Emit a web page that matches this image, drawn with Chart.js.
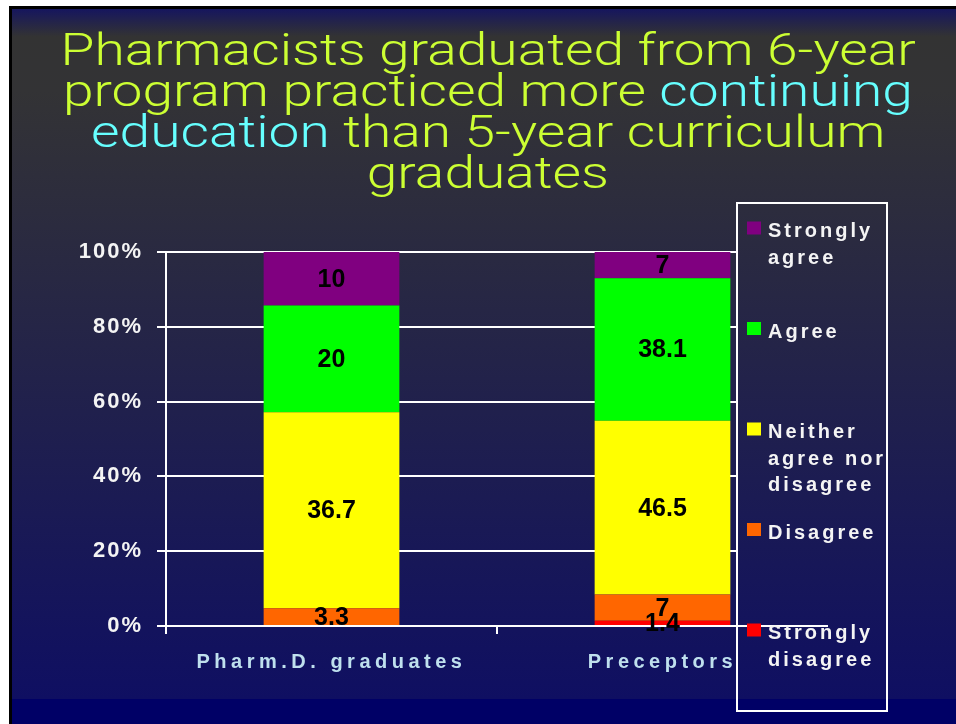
<!DOCTYPE html>
<html>
<head>
<meta charset="utf-8">
<script src="https://cdn.jsdelivr.net/npm/chart.js@4.4.0/dist/chart.umd.min.js"></script>
<style>
  html, body { margin: 0; padding: 0; background: #fff; }
  #wrap { position: relative; width: 956px; height: 724px; overflow: hidden; }
  #chart { position: absolute; left: 0; top: 0; }
  #title {
    position: absolute; left: 0; top: 29px; width: 976px; z-index: 2;
    text-align: center; color: #ccff33;
    font-family: Roboto, 'Liberation Sans', sans-serif; font-weight: 300;
    font-size: 45px; line-height: 41px;
  }
  #title .line { display: inline-block; white-space: nowrap; transform-origin: center; }
  #title .hl { color: #66ffff; }
</style>
</head>
<body>
<div id="wrap">
  <canvas id="chart" width="956" height="724"></canvas>
  <div id="title">
    <div><span class="line">Pharmacists graduated from 6-year</span></div>
    <div><span class="line">program practiced more <span class="hl">continuing</span></span></div>
    <div><span class="line"><span class="hl">education</span> than 5-year curriculum</span></div>
    <div><span class="line">graduates</span></div>
  </div>
</div>
<script>
// chart data (raw survey values, shown as labels; bars drawn as 100% stacks)
const categories = ['Pharm.D. graduates', 'Preceptors'];
const stronglyDisagree = [0, 1.4];
const disagree = [3.3, 7];
const neither = [36.7, 46.5];
const agree = [20, 38.1];
const stronglyAgree = [10, 7];
const yTicks = [0, 20, 40, 60, 80, 100];

const seriesNames = ['Strongly disagree', 'Disagree', 'Neither agree nor disagree', 'Agree', 'Strongly agree'];
const seriesColors = ['#ff0000', '#ff6600', '#ffff00', '#00ff00', '#800080'];
const legendLines = [['Strongly', 'disagree'], ['Disagree'], ['Neither', 'agree nor', 'disagree'], ['Agree'], ['Strongly', 'agree']];

// fit title lines to the slide width
const titleLines = document.querySelectorAll('#title .line');
const titleScale = 855 / titleLines[0].offsetWidth;
titleLines.forEach(l => { l.style.transform = 'scaleX(' + titleScale + ')'; });

const rawSeries = [stronglyDisagree, disagree, neither, agree, stronglyAgree];
const totals = categories.map((c, j) => rawSeries.reduce((s, arr) => s + arr[j], 0));

const datasets = rawSeries.map((vals, i) => ({
  label: seriesNames[i],
  data: vals.map((v, j) => v / totals[j] * 100),
  rawValues: vals,
  backgroundColor: seriesColors[i],
  borderWidth: 0,
  barPercentage: 0.41,
  categoryPercentage: 1.0
}));

function slideGradient(ctx) {
  const g = ctx.createLinearGradient(0, 9, 0, 699);
  g.addColorStop(0, '#16165e');
  g.addColorStop(0.04, '#333333');
  g.addColorStop(0.12, '#333335');
  g.addColorStop(1, '#0f0f62');
  return g;
}

// draw a scale's labels with its own letter spacing
function spacedLabels(spacing) {
  return s => {
    if (s._spaced) return;
    const orig = s.drawLabels.bind(s);
    s.drawLabels = area => {
      s.ctx.save();
      s.ctx.letterSpacing = spacing;
      orig(area);
      s.ctx.restore();
    };
    s._spaced = true;
  };
}

// slide background
const backgroundPlugin = {
  id: 'slideBackground',
  beforeDraw(chart) {
    const ctx = chart.ctx;
    ctx.save();
    ctx.fillStyle = '#ffffff';
    ctx.fillRect(0, 0, chart.width, chart.height);
    ctx.fillStyle = '#000000';
    ctx.fillRect(9, 6, 947, 3);
    ctx.fillRect(9, 6, 3, 718);
    ctx.fillStyle = slideGradient(ctx);
    ctx.fillRect(12, 9, 944, 690);
    ctx.fillStyle = '#000066';
    ctx.fillRect(12, 699, 944, 25);
    ctx.restore();
  }
};

// value labels + legend box
const overlayPlugin = {
  id: 'overlay',
  afterDatasetsDraw(chart) {
    const ctx = chart.ctx;
    ctx.save();
    ctx.letterSpacing = '0px';
    ctx.font = 'bold 25px Arial, "Liberation Sans", sans-serif';
    ctx.fillStyle = '#000000';
    ctx.textAlign = 'center';
    ctx.textBaseline = 'middle';
    chart.data.datasets.forEach((ds, i) => {
      chart.getDatasetMeta(i).data.forEach((bar, j) => {
        const v = ds.rawValues[j];
        if (v > 0) ctx.fillText(String(v), bar.x, (bar.y + bar.base) / 2 + 1);
      });
    });

    // legend box (transparent look: refill with slide gradient)
    const bx = 737, by = 203, bw = 150, bh = 508;
    ctx.fillStyle = slideGradient(ctx);
    ctx.fillRect(bx, by, bw, bh);
    ctx.fillStyle = '#000066';
    ctx.fillRect(bx, 699, bw, bh - (699 - by));

    // zero axis line runs through the legend
    const y0 = chart.scales.y.getPixelForValue(0);
    ctx.strokeStyle = '#ffffff';
    ctx.lineWidth = 2;
    ctx.beginPath();
    ctx.moveTo(bx - 2, y0);
    ctx.lineTo(chart.chartArea.right, y0);
    ctx.stroke();

    ctx.strokeRect(bx, by, bw, bh);

    ctx.letterSpacing = '3px';
    ctx.font = 'bold 20px Arial, "Liberation Sans", sans-serif';
    ctx.textAlign = 'left';
    ctx.textBaseline = 'alphabetic';
    for (let k = 0; k < seriesNames.length; k++) {
      const i = seriesNames.length - 1 - k;
      const base = 237 + k * 100.5;
      ctx.fillStyle = seriesColors[i];
      ctx.fillRect(747, base - 15.5, 14, 13);
      ctx.fillStyle = '#f4f4f4';
      legendLines[i].forEach((t, li) => ctx.fillText(t, 768, base + li * 26.5));
    }
    ctx.restore();
  }
};

new Chart(document.getElementById('chart'), {
  type: 'bar',
  data: { labels: categories, datasets: datasets },
  options: {
    responsive: false,
    animation: false,
    layout: { padding: { left: 0, right: 128, top: 252, bottom: 38 } },
    plugins: {
      legend: { display: false },
      title: { display: false },
      tooltip: { enabled: false }
    },
    scales: {
      x: {
        stacked: true,
        offset: true,
        afterFit: s => { s.height = 60; },
        afterUpdate: spacedLabels('4.5px'),
        grid: { drawOnChartArea: false, drawTicks: true, tickLength: 8, color: '#ffffff', lineWidth: 2, offset: true },
        border: { display: true, color: '#ffffff', width: 2 },
        ticks: { color: '#bfe0ee', padding: 16, font: { family: 'Arial, "Liberation Sans", sans-serif', size: 20, weight: 'bold' } }
      },
      y: {
        stacked: true,
        min: 0,
        max: 100,
        afterFit: s => { s.width = 166; },
        afterUpdate: spacedLabels('2px'),
        afterBuildTicks: s => { s.ticks = yTicks.map(v => ({ value: v })); },
        grid: { color: '#ffffff', lineWidth: 2, tickLength: 9 },
        border: { display: true, color: '#ffffff', width: 2 },
        ticks: {
          color: '#f4f4f4', padding: 14,
          font: { family: 'Arial, "Liberation Sans", sans-serif', size: 22, weight: 'bold' },
          callback: v => v + '%'
        }
      }
    }
  },
  plugins: [backgroundPlugin, overlayPlugin]
});
</script>
</body>
</html>
